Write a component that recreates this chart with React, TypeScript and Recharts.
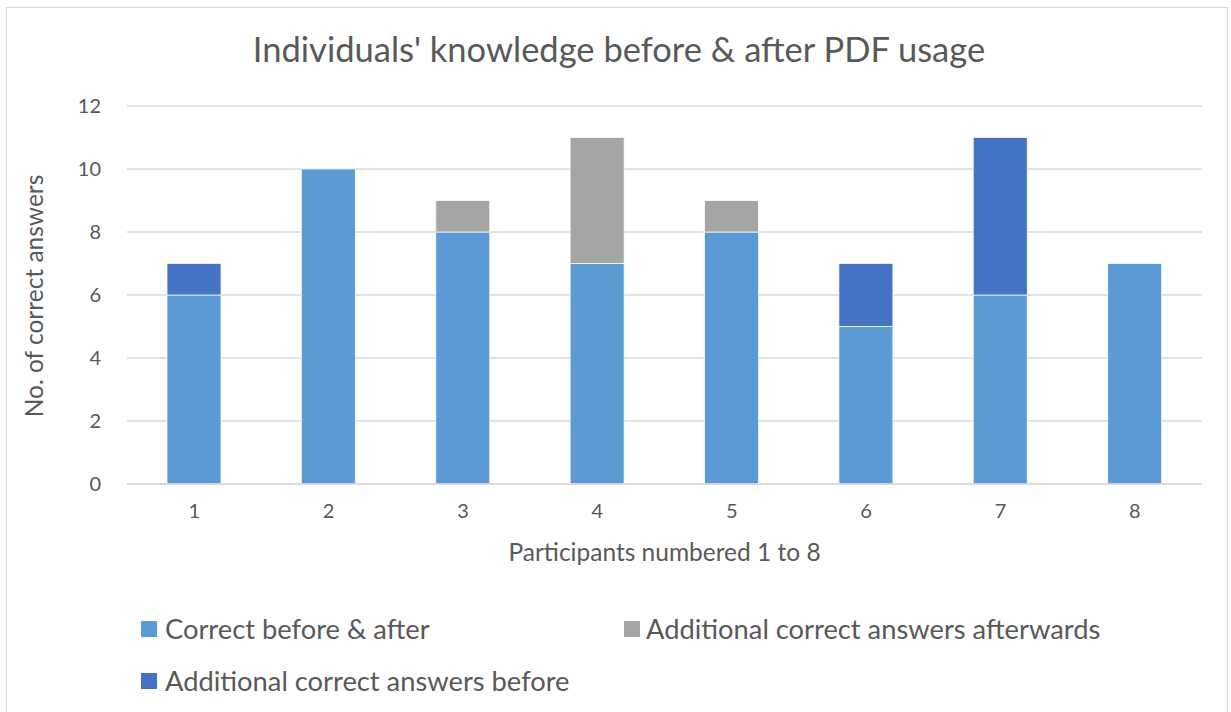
import React from "react";
import { BarChart, Bar, XAxis, YAxis, CartesianGrid } from "recharts";

const participants = ["1", "2", "3", "4", "5", "6", "7", "8"];
const correctBoth = [6, 10, 8, 7, 8, 5, 6, 7];
const extraAfter = [0, 0, 1, 4, 1, 0, 0, 0];
const extraBefore = [1, 0, 0, 0, 0, 2, 5, 0];
const yTicks = [0, 2, 4, 6, 8, 10, 12];

const seriesNames = [
  "Correct before & after",
  "Additional correct answers afterwards",
  "Additional correct answers before",
];
const colors = ["#5B9BD5", "#A5A5A5", "#4472C4"];

const data = participants.map((p, i) => ({
  name: p,
  both: correctBoth[i],
  after: extraAfter[i],
  before: extraBefore[i],
}));

const FONT = "Lato, 'Liberation Sans', sans-serif";
const TEXT = "#595959";

export default function App() {
  return (
    <div style={{ position: "absolute", left: 0, top: 0, width: 1231, height: 712, background: "#fff", fontFamily: FONT }}>
      <div style={{ position: "absolute", left: 6, top: 7, width: 1222, height: 720, border: "1px solid #D9D9D9", boxSizing: "border-box" }} />
      <BarChart
        width={1231}
        height={712}
        data={data}
        margin={{ top: 106, right: 29, left: 0, bottom: 0 }}
        barSize={54}
      >
        <CartesianGrid vertical={false} stroke="#D9D9D9" strokeWidth={1.5} />
        <XAxis
          dataKey="name"
          height={228}
          tickLine={false}
          axisLine={{ stroke: "#D9D9D9", strokeWidth: 1.5 }}
          tick={{ fill: TEXT, fontSize: 20, fontFamily: FONT }}
          tickMargin={14}
        />
        <YAxis
          width={127}
          domain={[0, 12]}
          ticks={yTicks}
          tickLine={false}
          axisLine={false}
          tick={{ fill: TEXT, fontSize: 20, fontFamily: FONT }}
          tickMargin={20}
        />
        <Bar dataKey="both" stackId="a" fill={colors[0]} stroke="#fff" strokeWidth={0.75} isAnimationActive={false} />
        <Bar dataKey="after" stackId="a" fill={colors[1]} stroke="#fff" strokeWidth={0.75} isAnimationActive={false} />
        <Bar dataKey="before" stackId="a" fill={colors[2]} stroke="#fff" strokeWidth={0.75} isAnimationActive={false} />
      </BarChart>
      <div style={{ position: "absolute", left: 0, width: 1238, top: 28, textAlign: "center", fontSize: 34.5, color: TEXT }}>
        Individuals' knowledge before &amp; after PDF usage
      </div>
      <div
        style={{
          position: "absolute",
          left: 33,
          top: 296,
          transform: "translate(-50%, -50%) rotate(-90deg)",
          whiteSpace: "nowrap",
          fontSize: 24.5,
          color: TEXT,
        }}
      >
        No. of correct answers
      </div>
      <div style={{ position: "absolute", left: 127, width: 1075, top: 537, textAlign: "center", fontSize: 24.5, color: TEXT }}>
        Participants numbered 1 to 8
      </div>
      {[
        { x: 141, y: 620, i: 0, gap: 8 },
        { x: 624, y: 620, i: 1, gap: 6 },
        { x: 141, y: 672, i: 2, gap: 8 },
      ].map(({ x, y, i, gap }) => (
        <div key={i} style={{ position: "absolute", left: x, top: y - 8, display: "flex", alignItems: "center", whiteSpace: "nowrap" }}>
          <span style={{ display: "inline-block", width: 16, height: 16, background: colors[i], marginRight: gap }} />
          <span style={{ fontSize: 27.3, color: TEXT }}>{seriesNames[i]}</span>
        </div>
      ))}
    </div>
  );
}
